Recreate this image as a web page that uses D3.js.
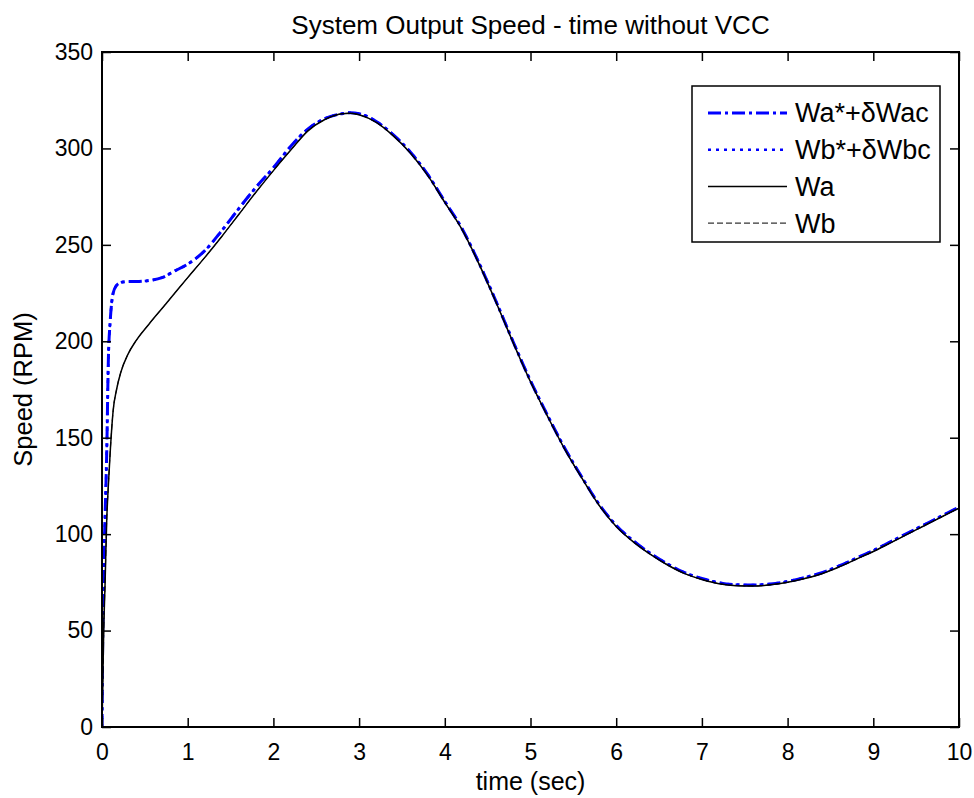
<!DOCTYPE html>
<html>
<head>
<meta charset="utf-8">
<script src="https://cdn.jsdelivr.net/npm/d3@7"></script>
<style>
  body { margin: 0; background: #fff; }
  svg { display: block; font-family: "Liberation Sans", Arial, sans-serif; }
</style>
</head>
<body>
<div id="svgOutput"></div>
<script>
// data (time in sec, speed in RPM)

const timeSec = [0, 0.01, 0.02, 0.035, 0.055, 0.075, 0.095, 0.13, 0.17, 0.22, 0.3, 0.4, 0.55, 0.7, 0.85,
  1.0, 1.2, 1.4, 1.6, 1.8, 2.0, 2.2, 2.4, 2.6, 2.8, 2.9, 3.0, 3.2, 3.4, 3.6, 3.8, 4.0, 4.2, 4.4, 4.6, 4.8,
  5.0, 5.2, 5.4, 5.6, 5.8, 6.0, 6.2, 6.4, 6.6, 6.8, 7.0, 7.2, 7.4, 7.6, 7.8, 8.0, 8.2, 8.4, 8.6, 8.8,
  9.0, 9.2, 9.4, 9.6, 9.8, 10.0];

const wacValues = [0, 55, 82, 108, 142, 192, 210, 225, 229, 230.5, 231, 231, 231.5, 233, 236.5,
  240, 247, 257.5, 269, 280, 290, 301, 310, 315.5, 318, 318.5, 318, 314, 307, 298, 286.5, 272.5, 258.5, 240.5, 220.5, 199.5,
  179.5, 161.5, 144.5, 129.5, 115.5, 104.5, 96.5, 90, 84.5, 80, 77, 74.8, 73.8, 73.6, 74.2, 75.5, 77.5, 80, 83.5, 87.5,
  91.5, 96, 100.5, 105, 109.5, 114];

const wbcValues = [0, 55, 82, 108, 142, 192, 210, 225, 229, 230.5, 231, 231, 231.5, 233, 236.5,
  240, 247, 257.5, 269, 280, 290, 301, 310, 315.5, 318, 318.5, 318, 314, 307, 298, 286.5, 272.5, 258.5, 240.5, 220.5, 199.5,
  179.5, 161.5, 144.5, 129.5, 115.5, 104.5, 96.5, 90, 84.5, 80, 77, 74.8, 73.8, 73.6, 74.2, 75.5, 77.5, 80, 83.5, 87.5,
  91.5, 96, 100.5, 105, 109.5, 114];

const waValues = [0, 25, 50, 73, 107, 126, 142, 164, 175, 184, 193, 200.5, 209, 217, 225,
  233, 243.5, 254.5, 266, 277.5, 288.5, 299, 309, 315, 318, 318.3, 317.5, 313.5, 306.5, 297.5, 286, 272, 258, 240, 220, 199,
  179, 161, 144, 129, 115, 104, 96, 89.5, 84, 79.5, 76.5, 74.3, 73.3, 73.1, 73.7, 75, 77, 79.5, 83, 87,
  91, 95.5, 100, 104.5, 109, 113.5];

const wbValues = [0, 25, 50, 73, 107, 126, 142, 164, 175, 184, 193, 200.5, 209, 217, 225,
  233, 243.5, 254.5, 266, 277.5, 288.5, 299, 309, 315, 318, 318.3, 317.5, 313.5, 306.5, 297.5, 286, 272, 258, 240, 220, 199,
  179, 161, 144, 129, 115, 104, 96, 89.5, 84, 79.5, 76.5, 74.3, 73.3, 73.1, 73.7, 75, 77, 79.5, 83, 87,
  91, 95.5, 100, 104.5, 109, 113.5];

const seriesNames = ["Wa*+\u03b4Wac", "Wb*+\u03b4Wbc", "Wa", "Wb"];
const xTicks = [0, 1, 2, 3, 4, 5, 6, 7, 8, 9, 10];
const yTicks = [0, 50, 100, 150, 200, 250, 300, 350];

// config

const width = 974;
const height = 798;
const margin = { top: 52, bottom: 71, left: 102, right: 15 };

const styles = [
  { color: "#0000ff", width: 3, dash: "13,4,3,4" },
  { color: "#0000ff", width: 2.5, dash: "3,5" },
  { color: "#000000", width: 1.5, dash: null },
  { color: "#000000", width: 1, dash: "6,3" }
];

const series = [wacValues, wbcValues, waValues, wbValues].map((vals, i) => ({
  name: seriesNames[i],
  style: styles[i],
  points: timeSec.map((t, j) => ({ t: t, v: vals[j] }))
}));

// scales

const xScale = d3.scaleLinear()
  .domain([0, 10])
  .range([margin.left, width - margin.right]);

const yScale = d3.scaleLinear()
  .domain([0, 350])
  .range([height - margin.bottom, margin.top]);

const svg = d3.select("#svgOutput")
  .append("svg")
  .attr("width", width)
  .attr("height", height)
  .attr("viewBox", [0, 0, width, height]);

// lines, drawn in legend order so black ends on top

const line = d3.line()
  .x(d => xScale(d.t))
  .y(d => yScale(d.v))
  .curve(d3.curveMonotoneX);

svg.append("defs").append("clipPath")
  .attr("id", "plotClip")
  .append("rect")
  .attr("x", margin.left)
  .attr("y", margin.top)
  .attr("width", width - margin.left - margin.right)
  .attr("height", height - margin.top - margin.bottom);

svg.append("g")
  .attr("clip-path", "url(#plotClip)")
  .selectAll("path.series")
  .data(series)
  .join("path")
  .attr("class", "series")
  .attr("d", d => line(d.points))
  .attr("fill", "none")
  .attr("stroke", d => d.style.color)
  .attr("stroke-width", d => d.style.width)
  .attr("stroke-dasharray", d => d.style.dash)
  .attr("stroke-linejoin", "round");

// axes (ticks inward on all four sides)

const tickLen = 9;

const styleAxis = g => {
  g.selectAll(".domain").remove();
  g.selectAll(".tick line").attr("stroke", "#000").attr("stroke-width", 1.5);
  g.selectAll(".tick text").attr("fill", "#000").style("font-size", "23px");
};

svg.append("g")
  .attr("transform", "translate(0," + (height - margin.bottom) + ")")
  .call(d3.axisBottom(xScale).tickValues(xTicks).tickSize(-tickLen).tickPadding(17).tickFormat(d3.format("d")))
  .call(styleAxis);

svg.append("g")
  .attr("transform", "translate(0," + margin.top + ")")
  .call(d3.axisTop(xScale).tickValues(xTicks).tickSize(-tickLen).tickFormat(""))
  .call(styleAxis);

svg.append("g")
  .attr("transform", "translate(" + margin.left + ",0)")
  .call(d3.axisLeft(yScale).tickValues(yTicks).tickSize(-tickLen).tickPadding(9).tickFormat(d3.format("d")))
  .call(styleAxis);

svg.append("g")
  .attr("transform", "translate(" + (width - margin.right) + ",0)")
  .call(d3.axisRight(yScale).tickValues(yTicks).tickSize(-tickLen).tickFormat(""))
  .call(styleAxis);

svg.append("rect")
  .attr("x", margin.left)
  .attr("y", margin.top)
  .attr("width", width - margin.left - margin.right)
  .attr("height", height - margin.top - margin.bottom)
  .attr("fill", "none")
  .attr("stroke", "#000")
  .attr("stroke-width", 2);

// labels

const plotMid = (margin.left + width - margin.right) / 2;

svg.append("text")
  .attr("x", plotMid)
  .attr("y", 34)
  .attr("text-anchor", "middle")
  .style("font-size", "26px")
  .text("System Output Speed - time without VCC");

svg.append("text")
  .attr("x", plotMid)
  .attr("y", 790)
  .attr("text-anchor", "middle")
  .style("font-size", "25px")
  .text("time (sec)");

svg.append("text")
  .attr("transform", "translate(32," + ((margin.top + height - margin.bottom) / 2) + ") rotate(-90)")
  .attr("text-anchor", "middle")
  .style("font-size", "25.5px")
  .text("Speed (RPM)");

// legend

const legend = svg.append("g");

legend.append("rect")
  .attr("x", 692)
  .attr("y", 86)
  .attr("width", 248)
  .attr("height", 156)
  .attr("fill", "#fff")
  .attr("stroke", "#000")
  .attr("stroke-width", 1.5);

const rows = legend.selectAll("g.row")
  .data(series)
  .join("g")
  .attr("class", "row")
  .attr("transform", (d, i) => "translate(0," + (113 + i * 36.7) + ")");

rows.append("line")
  .attr("x1", 708)
  .attr("x2", 787)
  .attr("stroke", d => d.style.color)
  .attr("stroke-width", d => d.style.width)
  .attr("stroke-dasharray", d => d.style.dash);

rows.append("text")
  .attr("x", 795)
  .attr("dy", "0.35em")
  .style("font-size", "27px")
  .text(d => d.name);
</script>
</body>
</html>
